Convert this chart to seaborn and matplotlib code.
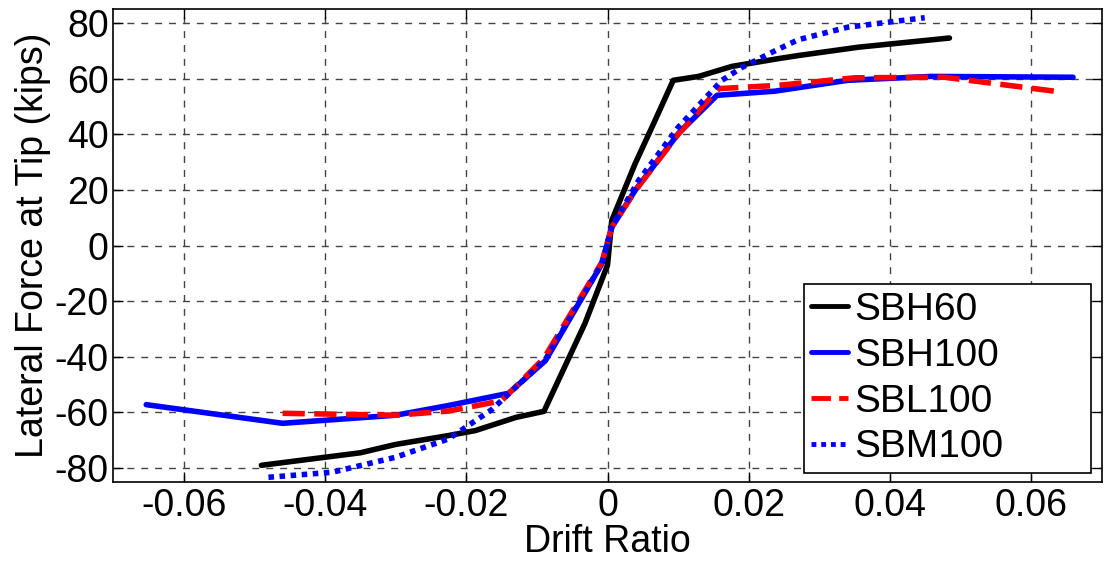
import numpy as np
import pandas as pd
import matplotlib
matplotlib.use("Agg")
import matplotlib.pyplot as plt
import seaborn as sns

# values
sbh60_x = [-0.049, -0.035, -0.030, -0.0225, -0.0187, -0.013, -0.009, -0.0032, 0.0, 0.0006,
           0.0039, 0.0063, 0.0093, 0.0129, 0.0176, 0.0242, 0.027, 0.0355, 0.0484]
sbh60_y = [-79.0, -74.5, -71.5, -68.3, -66.5, -61.8, -59.6, -28.0, -7.0, 9.0,
           29.4, 42.6, 59.4, 60.8, 64.4, 67.2, 68.3, 71.3, 74.6]

sbh100_x = [-0.0653, -0.046, -0.030, -0.0225, -0.014, -0.0088, -0.0008, 0.0006, 0.0039,
            0.010, 0.0155, 0.0237, 0.034, 0.0458, 0.0659]
sbh100_y = [-57.2, -63.9, -61.0, -57.5, -53.1, -41.4, -6.5, 6.6, 19.8,
            40.2, 54.0, 55.5, 59.4, 60.8, 60.5]

sbl100_x = [-0.046, -0.030, -0.0225, -0.015, -0.009, -0.0008, 0.0006, 0.004, 0.010,
            0.0157, 0.0242, 0.035, 0.0477, 0.0645]
sbl100_y = [-60.3, -61.0, -59.5, -55.8, -40.5, -6.0, 6.6, 20.0, 40.0,
            56.4, 57.6, 60.3, 60.5, 55.1]

sbm100_x = [-0.048, -0.039, -0.030, -0.0225, -0.0164, -0.014, -0.0088, -0.0008, 0.0006,
            0.0044, 0.010, 0.0162, 0.019, 0.0237, 0.027, 0.034, 0.0449]
sbm100_y = [-83.3, -81.5, -76.1, -69.5, -59.0, -53.3, -41.0, -6.5, 6.6,
            23.4, 42.5, 59.4, 64.0, 70.0, 74.0, 78.5, 81.9]

series_names = ["SBH60", "SBH100", "SBL100", "SBM100"]
xtick_vals = [-0.06, -0.04, -0.02, 0.0, 0.02, 0.04, 0.06]
xtick_labels = ["-0.06", "-0.04", "-0.02", "0", "0.02", "0.04", "0.06"]
ytick_vals = [-80, -60, -40, -20, 0, 20, 40, 60, 80]

sns.set_style("ticks", {"text.color": "black", "axes.labelcolor": "black",
                        "xtick.color": "black", "ytick.color": "black"})
plt.rcParams["font.family"] = ["Liberation Sans", "DejaVu Sans"]
plt.rcParams["axes.unicode_minus"] = False

fig = plt.figure(figsize=(11.05, 5.65), dpi=100)
ax = fig.add_axes([0.1023, 0.1469, 0.895, 0.837])

styles = [
    (sbh60_x, sbh60_y, "black", "-"),
    (sbh100_x, sbh100_y, "#0000ff", "-"),
    (sbl100_x, sbl100_y, "#ff0000", (0, (4, 1.7))),
    (sbm100_x, sbm100_y, "#0000ff", (0, (1, 1))),
]
for name, (xs, ys, col, ls) in zip(series_names, styles):
    df = pd.DataFrame({"x": xs, "y": ys})
    sns.lineplot(data=df, x="x", y="y", ax=ax, sort=False, estimator=None,
                 color=col, linestyle=ls, linewidth=4, label=name)

ax.set_xlim(-0.07, 0.07)
ax.set_ylim(-85, 85)
ax.set_xticks(xtick_vals)
ax.set_xticklabels(xtick_labels)
ax.set_yticks(ytick_vals)
ax.tick_params(direction="in", length=7, width=1, labelsize=27, top=True, right=True,
               colors="black")
ax.tick_params(axis="x", pad=4)
ax.tick_params(axis="y", pad=3)
ax.grid(True, color="#444444", linestyle=(0, (5, 5)), linewidth=1)
for sp in ax.spines.values():
    sp.set_visible(True)
    sp.set_color("black")
    sp.set_linewidth(1.2)

ax.set_xlabel("Drift Ratio", fontsize=27, labelpad=0, color="black")
ax.set_ylabel("Lateral Force at Tip (kips)", fontsize=27, labelpad=3, color="black")

leg = ax.legend(loc="lower left", bbox_to_anchor=(0.6983, 0.019, 0.2906, 0.3), mode="expand",
                fontsize=28, handlelength=0.95, handletextpad=0.15,
                borderaxespad=0, fancybox=False, framealpha=1, edgecolor="black",
                labelspacing=0.25, borderpad=0.2, labelcolor="black")
leg.get_frame().set_linewidth(1.2)
for h in leg.get_lines():
    h.set_linewidth(3.5)

fig.savefig("out.png", dpi=100)
